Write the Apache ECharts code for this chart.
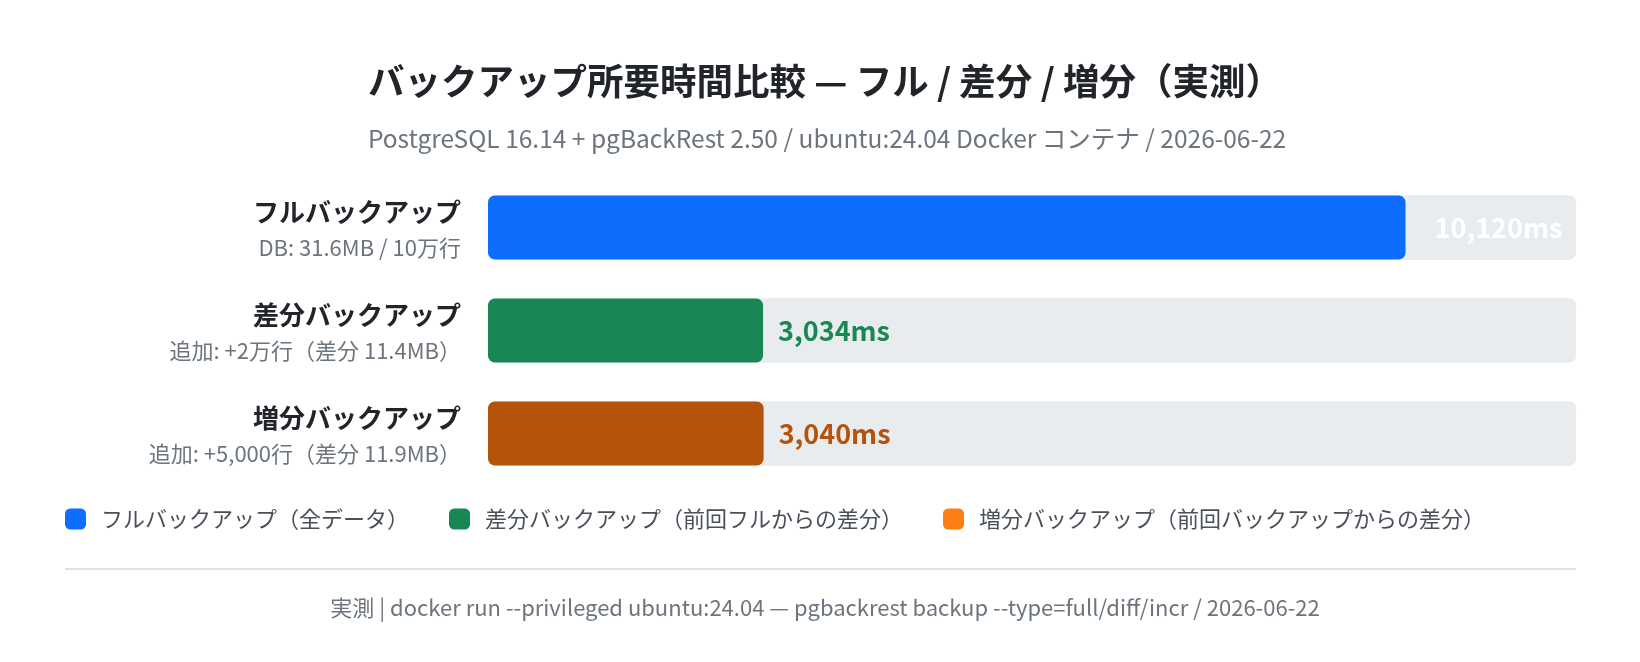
<!DOCTYPE html>
<html><head><meta charset="utf-8">
<script src="https://cdn.jsdelivr.net/npm/echarts@6/dist/echarts.min.js"></script>
<style>html,body{margin:0;padding:0;background:#fff}#c{width:1640px;height:662px}</style>
</head><body><div id="c"></div>
<script>
const categories = ['フルバックアップ', '差分バックアップ', '増分バックアップ'];
const details = ['DB: 31.6MB / 10万行', '追加: +2万行（差分 11.4MB）', '追加: +5,000行（差分 11.9MB）'];
const valuesMs = [10120, 3034, 3040];
const legendNames = ['フルバックアップ（全データ）', '差分バックアップ（前回フルからの差分）', '増分バックアップ（前回バックアップからの差分）'];
const barColors = ['#0d6efd', '#198754', '#b5530b'];
const legendColors = ['#0d6efd', '#198754', '#fd7e14'];
const labelColors = ['#ffffff', '#198754', '#b5530b'];
const axisMax = 12000;
const titleText = 'バックアップ所要時間比較 — フル / 差分 / 増分（実測）';
const subtitleText = 'PostgreSQL 16.14 + pgBackRest 2.50 / ubuntu:24.04 Docker コンテナ / 2026-06-22';
const footerText = '実測 | docker run --privileged ubuntu:24.04 — pgbackrest backup --type=full/diff/incr / 2026-06-22';

const FONT = '"Noto Sans CJK JP", "Noto Sans", sans-serif';
const chart = echarts.init(document.getElementById('c'));

const series = categories.map((c, i) => ({
  name: legendNames[i],
  type: 'bar',
  stack: 'all',
  barWidth: 64,
  showBackground: true,
  backgroundStyle: { color: '#e9ecef', borderRadius: 7 },
  itemStyle: { color: barColors[i], borderRadius: 7 },
  label: {
    show: true,
    position: 'right',
    distance: i === 0 ? 29 : 15,
    color: labelColors[i],
    fontFamily: FONT,
    fontSize: 27,
    fontWeight: 'bold',
    formatter: p => p.value.toLocaleString('en-US') + 'ms'
  },
  data: categories.map((_, j) => j === i ? valuesMs[i] : null)
}));

chart.setOption({
  backgroundColor: '#ffffff',
  animation: false,
  textStyle: { fontFamily: FONT },
  title: [
    { text: titleText, left: 820, top: 58, textAlign: 'center',
      textStyle: { fontFamily: FONT, fontSize: 36.5, fontWeight: 'bold', color: '#212529' } },
    { text: subtitleText, left: 822, top: 121, textAlign: 'center',
      textStyle: { fontFamily: FONT, fontSize: 24.5, fontWeight: 'normal', color: '#6c757d' } },
    { text: footerText, left: 820, top: 592, textAlign: 'center',
      textStyle: { fontFamily: FONT, fontSize: 22, fontWeight: 'normal', color: '#6c757d' } }
  ],
  legend: {
    left: 60, top: 503,
    itemWidth: 21, itemHeight: 21, itemGap: 40,
    icon: 'roundRect',
    selectedMode: false,
    textStyle: { fontFamily: FONT, fontSize: 22, color: '#495057', padding: [0, 0, 0, 10] },
    data: legendNames.map((n, i) => ({ name: n, itemStyle: { color: legendColors[i] } }))
  },
  grid: { left: 488, right: 64, top: 176, bottom: 177, containLabel: false },
  xAxis: { type: 'value', min: 0, max: axisMax, show: false },
  yAxis: {
    type: 'category',
    inverse: true,
    data: categories,
    axisLine: { show: false }, axisTick: { show: false }, splitLine: { show: false },
    axisLabel: {
      margin: 27,
      align: 'right',
      formatter: (v, idx) => '{n|' + v + '}\n{d|' + details[idx] + '}',
      rich: {
        n: { fontFamily: FONT, fontSize: 26, fontWeight: 'bold', color: '#212529', lineHeight: 40, align: 'right' },
        d: { fontFamily: FONT, fontSize: 22, color: '#6c757d', lineHeight: 30, align: 'right' }
      }
    }
  },
  graphic: [
    { type: 'rect', shape: { x: 65, y: 568, width: 1511, height: 2 }, style: { fill: '#dee2e6' }, silent: true }
  ],
  series: series
});
</script></body></html>
